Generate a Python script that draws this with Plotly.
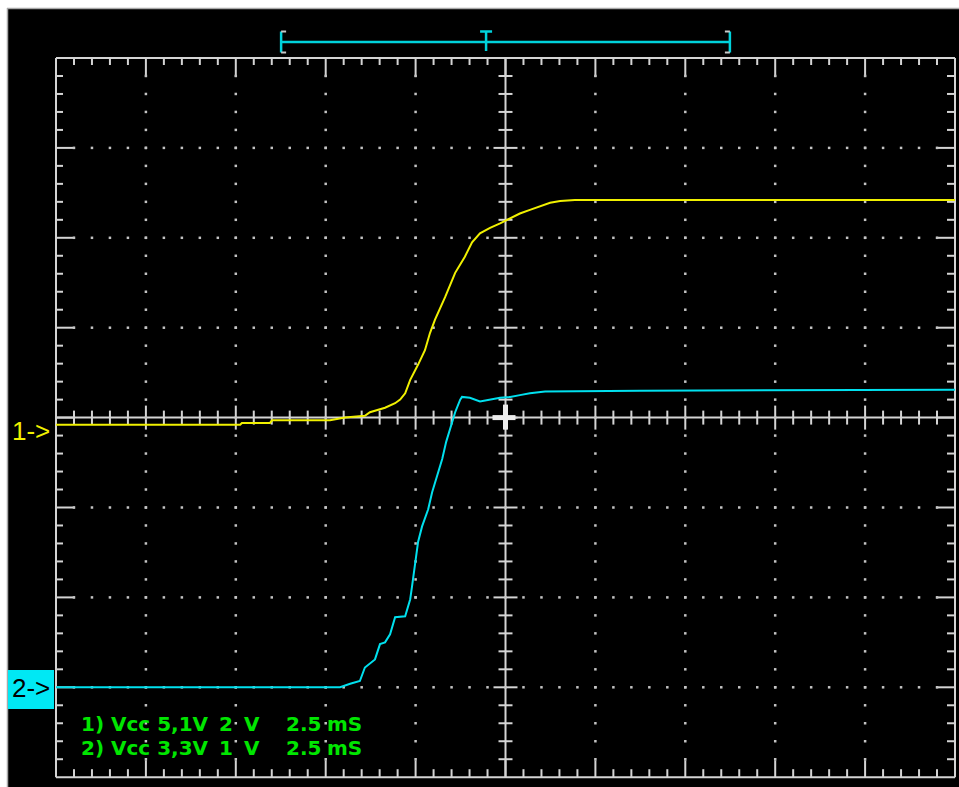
import plotly.graph_objects as go

# ---------------- data (time in ms, amplitude in screen divisions) ----------------
MS_PER_DIV = 2.5
N_XDIV = 10
N_YDIV = 8
N_MINOR = 5

ch1_time_ms = [0.0, 5.12, 5.17, 5.95, 6.01, 7.62, 8.04, 8.59, 8.73, 9.01, 9.15, 9.43,
               9.57, 9.71, 9.85, 10.07, 10.26, 10.40, 10.54, 10.82, 11.10, 11.37,
               11.57, 11.79, 12.07, 12.35, 12.63, 12.90, 13.18, 13.46, 13.74, 14.02,
               14.43, 25.0]
ch1_div = [-0.08, -0.08, -0.06, -0.06, -0.03, -0.03, 0.00, 0.02, 0.06, 0.09, 0.11, 0.16,
           0.20, 0.27, 0.42, 0.59, 0.75, 0.94, 1.09, 1.34, 1.61, 1.79,
           1.95, 2.05, 2.11, 2.16, 2.22, 2.27, 2.31, 2.35, 2.39, 2.41,
           2.42, 2.42]

ch2_time_ms = [0.0, 7.90, 8.18, 8.45, 8.59, 8.73, 8.87, 9.01, 9.15, 9.29, 9.43, 9.71,
               9.85, 9.90, 9.98, 10.07, 10.18, 10.35, 10.46, 10.60, 10.74, 10.85,
               10.99, 11.10, 11.24, 11.29, 11.51, 11.79, 12.35, 12.63, 12.90, 13.18,
               13.60, 16.24, 25.0]
ch2_div = [-3.00, -3.00, -2.96, -2.93, -2.78, -2.74, -2.69, -2.52, -2.50, -2.41, -2.22, -2.21,
           -2.02, -1.88, -1.66, -1.38, -1.21, -1.02, -0.83, -0.65, -0.46, -0.27,
           -0.09, 0.06, 0.20, 0.23, 0.22, 0.18, 0.22, 0.23, 0.25, 0.27,
           0.29, 0.30, 0.31]

window_start_ms = 6.26
window_end_ms = 18.74
trigger_ms = 11.96

ch1_label = "1->"
ch2_label = "2->"
info_line1 = ["1) Vcc 5,1V", "2", "V", "2.5", "mS"]
info_line2 = ["2) Vcc 3,3V", "1", "V", "2.5", "mS"]

# ---------------- screen geometry (page pixels) ----------------
W, H = 959, 787
PX = 89.9            # pixels per division
GX0, GY0 = 56, 58    # top-left corner of graticule on the page
CY = GY0 + PX * N_YDIV / 2


def fx(px):
    return (px - GX0) / PX * MS_PER_DIV


def fy(py):
    return (CY - py) / PX


def dx(px):
    return px / PX * MS_PER_DIV


def dy(px):
    return px / PX


X_END = N_XDIV * MS_PER_DIV
Y_TOP = N_YDIV / 2

GRAT = "#d4d4d4"

fig = go.Figure()

gx, gy = [], []


def seg(x0, y0, x1, y1):
    gx.extend([x0, x1, None])
    gy.extend([y0, y1, None])


# border
seg(0, -Y_TOP, 0, Y_TOP)
seg(X_END, -Y_TOP, X_END, Y_TOP)
seg(0, Y_TOP, X_END, Y_TOP)
seg(0, -Y_TOP, X_END, -Y_TOP)
# centre axes
seg(0, 0, X_END, 0)
seg(X_END / 2, -Y_TOP, X_END / 2, Y_TOP)

for i in range(1, N_XDIV * N_MINOR):
    x = i * MS_PER_DIV / N_MINOR
    major = i % N_MINOR == 0
    seg(x, Y_TOP, x, Y_TOP - dy(19 if major else 7))
    seg(x, -Y_TOP, x, -Y_TOP + dy(17 if major else 8))
    h = dy(12 if major else 7)
    seg(x, -h, x, h)
for j in range(1, N_YDIV * N_MINOR):
    y = -Y_TOP + j / N_MINOR
    major = j % N_MINOR == 0
    seg(0, y, dx(19 if major else 7), y)
    seg(X_END, y, X_END - dx(19 if major else 8), y)
    w = dx(12 if major else 7)
    seg(X_END / 2 - w, y, X_END / 2 + w, y)

fig.add_trace(go.Scatter(x=gx, y=gy, mode="lines", line=dict(color=GRAT, width=2),
                         hoverinfo="skip", showlegend=False))

# dotted grid
dxs, dys = [], []
for k in range(1, N_YDIV):
    y = -Y_TOP + k
    if abs(y) < 1e-9:
        continue
    for i in range(1, N_XDIV * N_MINOR):
        dxs.append(i * MS_PER_DIV / N_MINOR)
        dys.append(y)
for k in range(1, N_XDIV):
    if k == N_XDIV // 2:
        continue
    x = k * MS_PER_DIV
    for j in range(1, N_YDIV * N_MINOR):
        dxs.append(x)
        dys.append(-Y_TOP + j / N_MINOR)
fig.add_trace(go.Scatter(x=dxs, y=dys, mode="markers",
                         marker=dict(color="#c4c4c4", size=2.5, symbol="square", line=dict(width=0)),
                         hoverinfo="skip", showlegend=False))

# centre cross (thick)
fig.add_trace(go.Scatter(x=[X_END / 2 - dx(13), X_END / 2 + dx(10), None, X_END / 2, X_END / 2],
                         y=[0, 0, None, dy(13), -dy(12)], mode="lines",
                         line=dict(color="#ececec", width=5), hoverinfo="skip", showlegend=False))

# signal traces
fig.add_trace(go.Scatter(x=ch1_time_ms, y=ch1_div, mode="lines",
                         line=dict(color="#f0f000", width=2), name="Ch1", showlegend=False))
fig.add_trace(go.Scatter(x=ch2_time_ms, y=ch2_div, mode="lines",
                         line=dict(color="#00e0ee", width=2), name="Ch2", showlegend=False))

# time window marker at top
my = fy(42)
bh = dy(10.5)
mx = [window_start_ms, window_end_ms, None,
      window_start_ms, window_start_ms, None,
      window_end_ms, window_end_ms, None,
      trigger_ms - dx(6), trigger_ms + dx(6), None,
      trigger_ms, trigger_ms]
myy = [my, my, None,
       my - bh, my + bh, None,
       my - bh, my + bh, None,
       my + bh, my + bh, None,
       my + bh, my - dy(9)]
fig.add_trace(go.Scatter(x=mx, y=myy, mode="lines", line=dict(color="#00d2dc", width=2.5),
                         hoverinfo="skip", showlegend=False))
sx = [window_start_ms, window_start_ms + dx(5), None, window_start_ms, window_start_ms + dx(5), None,
      window_end_ms, window_end_ms - dx(5), None, window_end_ms, window_end_ms - dx(5)]
sy = [my + bh, my + bh, None, my - bh, my - bh, None,
      my + bh, my + bh, None, my - bh, my - bh]
fig.add_trace(go.Scatter(x=sx, y=sy, mode="lines", line=dict(color="#c8c8c8", width=2),
                         hoverinfo="skip", showlegend=False))

shapes = [
    dict(type="rect", xref="x", yref="y", x0=fx(8), x1=fx(W + 2), y0=fy(9), y1=fy(H + 2),
         fillcolor="black", line=dict(width=0), layer="below"),
    dict(type="line", xref="x", yref="y", x0=fx(7), x1=fx(W + 2), y0=fy(8.5), y1=fy(8.5),
         line=dict(color="#a8a8a8", width=1.5), layer="below"),
    dict(type="line", xref="x", yref="y", x0=fx(7.5), x1=fx(7.5), y0=fy(8), y1=fy(H + 2),
         line=dict(color="#a8a8a8", width=1.5), layer="below"),
    dict(type="rect", xref="x", yref="y", x0=fx(8), x1=fx(54), y0=fy(670), y1=fy(709),
         fillcolor="#00e8f4", line=dict(width=0), layer="below"),
]

annotations = [
    dict(x=fx(10), y=fy(431), text=ch1_label, showarrow=False, xanchor="left", yanchor="middle",
         font=dict(family="Liberation Sans", size=26, color="#f0f000")),
    dict(x=fx(10), y=fy(688), text=ch2_label, showarrow=False, xanchor="left", yanchor="middle",
         font=dict(family="Liberation Sans", size=26, color="black")),
]
piece_x = [79, 217, 242, 284, 325]
for line, ypx in ((info_line1, 724), (info_line2, 748)):
    for txt, xp in zip(line, piece_x):
        annotations.append(dict(x=fx(xp), y=fy(ypx), text="<b>" + txt + "</b>", showarrow=False,
                                xanchor="left", yanchor="middle",
                                font=dict(family="DejaVu Sans", size=20, color="#00e600")))

fig.update_layout(
    width=W, height=H, autosize=False,
    margin=dict(l=0, r=0, t=0, b=0, pad=0),
    paper_bgcolor="white", plot_bgcolor="white",
    xaxis=dict(range=[fx(0), fx(W)], visible=False, fixedrange=True),
    yaxis=dict(range=[fy(H), fy(0)], visible=False, fixedrange=True),
    shapes=shapes, annotations=annotations, showlegend=False,
)

fig.write_html("out.html", config={"displayModeBar": False},
               post_script="document.body.style.margin='0';document.body.style.overflow='hidden';")
